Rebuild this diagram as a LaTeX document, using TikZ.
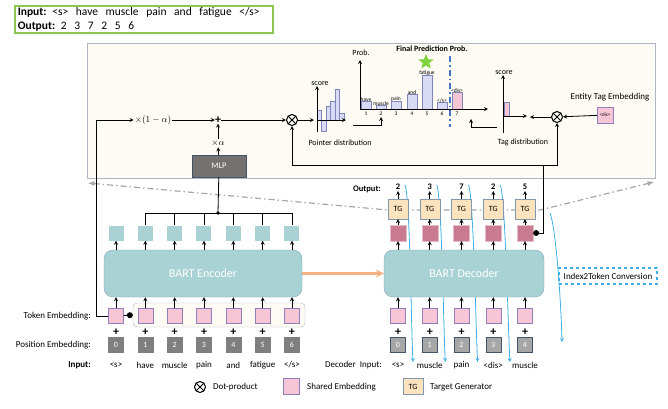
\documentclass[tikz,border=0pt]{standalone}
\usepackage{fontspec}
\setmainfont{Carlito}
\usepackage{amsmath}
\usetikzlibrary{positioning, arrows, shapes.geometric}

\definecolor{panelfill}{HTML}{FDFBF4}
\definecolor{panelline}{HTML}{AEB6C4}
\definecolor{encteal}{HTML}{A9D2D4}
\definecolor{encline}{HTML}{7FA3B8}
\definecolor{embpink}{HTML}{F6C6D6}
\definecolor{embline}{HTML}{8E80B6}
\definecolor{outpink}{HTML}{C97B91}
\definecolor{tgfill}{HTML}{FBE3BD}
\definecolor{tgline}{HTML}{8497B0}
\definecolor{posgray}{HTML}{7F7F7F}
\definecolor{dposgray}{HTML}{A6A6A6}
\definecolor{darkslate}{HTML}{44546A}
\definecolor{mlpgray}{HTML}{767171}
\definecolor{barfill}{HTML}{D9DAF5}
\definecolor{barline}{HTML}{7E85B8}
\definecolor{iogreen}{HTML}{8DC64D}
\definecolor{stargreen}{HTML}{7ED33F}
\definecolor{cutblue}{HTML}{4472C4}
\definecolor{idxblue}{HTML}{3DAEE9}
\definecolor{bridge}{HTML}{F4B183}
\definecolor{zoomgray}{HTML}{A6A6A6}

\tikzset{
    x=1pt, y=-1pt, % one unit is one pixel of the layout, y grows downwards
    >=stealth, % small pointed arrow heads
    every node/.style={inner sep=1pt, font=\fontsize{9}{10}\selectfont}, % default label text
    link/.style={line width=0.8pt}, % plain black connectors
    emb/.style={draw=embline, fill=embpink, minimum size=15pt, inner sep=0pt}, % shared embedding
    encout/.style={fill=encteal, minimum size=15pt, inner sep=0pt}, % encoder states
    decout/.style={draw=outpink!50, fill=outpink, minimum size=16pt, inner sep=0pt}, % decoder states
    tgbox/.style={draw=tgline, fill=tgfill, minimum width=20pt, minimum height=20pt, font=\fontsize{8}{9}\selectfont},
    posbox/.style={draw=posgray, fill=posgray, text=white, minimum size=15pt, inner sep=0pt, font=\fontsize{8}{9}\selectfont},
    dposbox/.style={posbox, draw=darkslate, fill=dposgray},
    bart/.style={draw=encline, fill=encteal, rounded corners=9pt, text=white, minimum height=47pt, font=\fontsize{12}{14}\selectfont},
    plussign/.style={inner sep=0pt, font=\bfseries\fontsize{12}{12}\selectfont},
    dotprod/.style={circle, draw, line width=1pt, minimum size=11pt, inner sep=0pt,
        path picture={\draw[line width=1pt] (path picture bounding box.north west) -- (path picture bounding box.south east)
        (path picture bounding box.north east) -- (path picture bounding box.south west);}},
    barbox/.style={draw=barline, fill=barfill, line width=0.5pt},
    axisline/.style={->, line width=0.8pt},
    tinylabel/.style={inner sep=0.5pt, font=\fontsize{5.5}{6}\selectfont},
    smalllabel/.style={font=\fontsize{8}{9}\selectfont},
    boldlabel/.style={font=\bfseries\fontsize{8.5}{10}\selectfont},
    idx/.style={->, idxblue, line width=0.8pt}, % index to token conversion
    zoomcut/.style={latex-latex, zoomgray, line width=1.2pt, dash pattern=on 6pt off 3pt on 1.5pt off 3pt},
}

\begin{document}
\begin{tikzpicture}
\useasboundingbox (0,0) rectangle (668,408);

% input / output example
\node[draw=iogreen, line width=1.6pt, fill=white, anchor=north west, align=left, text width=252pt,
      inner xsep=3pt, inner ysep=2pt, font=\fontsize{11.5}{13.5}\selectfont] (io) at (14,5)
      {\textbf{Input:} <s>\ \ have\ \ muscle\ \ pain\ \ and\ \ fatigue\ \ </s>\\\textbf{Output:} 2\ \ 3\ \ 7\ \ 2\ \ 5\ \ 6};

% zoomed pointer panel
\draw[zoomcut] (88,183) -- (388,210) -- (540,210) -- (654,182);
\node[draw=panelline, fill=panelfill, line width=0.8pt, anchor=north west, minimum width=568pt, minimum height=135pt] (panel) at (87,43) {};

\node (mix) at (153,120) {$\times(1-\alpha)$};
\node[plussign] (plus) at (218,120) {+};
\node (alpha) at (218,143) {$\times\alpha$};
\node[draw=darkslate, fill=mlpgray, text=white, minimum width=54pt, minimum height=22pt, font=\fontsize{8.5}{9}\selectfont] (mlp) at (219,166) {MLP};
\node[dotprod] (dot1) at (292,120) {};
\draw[link,->] (mix) -- (plus);
\draw[link,->] (plus) -- (dot1);
\draw[link,->] (mlp) -- (alpha);
\draw[link,->] (alpha) -- (plus);

% pointer distribution
\draw[link,->] (dot1) -- (314,120);
\foreach \x/\top in {317/110, 321.5/131, 326/106, 330.5/101, 335/89, 339.5/113}
    \draw[barbox] (\x,120) rectangle (\x+4.5,\top);
\draw[axisline] (317,132) -- (317,86);
\draw[axisline] (317,120) -- (346,120);
\node[smalllabel] (pscore) at (320,84) {score};
\node[smalllabel] (plbl) at (340,143) {Pointer distribution};
\coordinate (pa) at (353,125);
\coordinate (pb) at (381,117);
\draw[link,->] (pa) -| (pb);

% final prediction probability
\foreach \x/\top/\w [count=\i] in {361/101/have, 376/105/muscle, 391/101/pain, 407/94/and, 422/75/fatigue, 437/102/{</s>}} {
    \draw[barbox] (\x,109) rectangle (\x+10,\top);
    \node[tinylabel, anchor=south] (w\i) at (\x+5,\top+1) {\w};
    \node[tinylabel, anchor=north] (n\i) at (\x+5,111) {\i};
}
\draw[barbox, fill=embpink] (452,109) rectangle (462,92);
\node[tinylabel, anchor=south] (w7) at (457,93) {<dis>};
\node[tinylabel, anchor=north] (n7) at (457,111) {7};
\draw[axisline] (360,109) -- (360,60);
\draw[axisline] (360,109) -- (488,109);
\node[smalllabel] (prob) at (361,53) {Prob.};
\draw[cutblue, line width=1.4pt, dash pattern=on 6pt off 3pt on 1.5pt off 3pt] (450,56) -- (450,127);
\node[star, star points=5, star point ratio=2.3, fill=stargreen, minimum size=16pt, inner sep=0pt] (star) at (426,62) {};
\node[font=\bfseries\fontsize{8}{9}\selectfont] (final) at (432,49) {Final Prediction Prob.};

% tag distribution
\coordinate (ta) at (497,127);
\coordinate (tb) at (471,119);
\draw[link,->] (ta) -| (tb);
\draw[barbox, fill=embpink] (504,116) rectangle (509,102);
\draw[axisline] (503,133) -- (503,75);
\draw[axisline] (503,116) -- (527,116);
\node[smalllabel] (tscore) at (504,73) {score};
\node[smalllabel] (tlbl) at (523,142) {Tag distribution};
\node[dotprod] (dot2) at (557,117) {};
\node[emb, minimum size=16pt] (disbox) at (605,115) {\fontsize{5}{5}\selectfont <dis>};
\node (ent) at (610,97) {Entity Tag Embedding};
\draw[link,->] (dot2) -- (530,117);
\draw[link,->] (disbox) -- (dot2);

% index to token conversion
\foreach \i in {0,...,3} {
    \coordinate (is\i) at ({405+31.75*\i},185);
    \coordinate (ie\i) at ({413+32.3*\i},362);
    \draw[idx] (is\i) .. controls +(5,12) and +(-2,-40) .. (ie\i);
}
\coordinate (is4) at (550,213);
\coordinate (ie4) at (562,342);
\draw[idx] (is4) .. controls +(6,15) and +(-1,-40) .. (ie4);
\node[draw=idxblue, dashed, line width=1.3pt, minimum width=98pt, minimum height=16pt] (i2t) at (608,276) {Index2Token Conversion};

% encoder and decoder
\node[draw=panelline, fill=panelfill, rounded corners=4pt, minimum width=172pt, minimum height=24pt] (tokgroup) at (219,315) {};
\node[bart, minimum width=198pt] (enc) at (203,273.5) {BART Encoder};
\node[bart, minimum width=160pt] (dec) at (464,273.5) {BART Decoder};
\draw[->, bridge, line width=2.5pt] (enc) -- (dec);

\foreach \w [count=\i from 0] in {<s>, have, muscle, pain, and, fatigue, {</s>}} {
    \node[encout] (eo\i) at ({116+29.33*\i},233) {};
    \node[emb] (tok\i) at ({116+29.33*\i},316) {};
    \node[plussign] (tp\i) at ({116+29.33*\i},332) {+};
    \node[posbox] (pos\i) at ({116+29.33*\i},345) {\i};
    \node (in\i) at ({116+29.33*\i},365) {\w};
    \draw[link,->] (tok\i) -- (tok\i |- enc.south);
    \draw[link,->] (eo\i |- enc.north) -- (eo\i);
}
\coordinate (bus) at (218,213);
\draw[link] (eo1.north) |- (eo6.north |- bus) -- (eo6.north);
\foreach \i in {2,...,5}
    \draw[link] (eo\i.north) -- (eo\i.north |- bus);
\draw[link] (mlp) -- (bus);
\fill (bus) circle (1.8pt);

\foreach \w/\o [count=\i from 0] in {<s>/2, muscle/3, pain/7, {<dis>}/2, muscle/5} {
    \node[emb] (din\i) at ({398+31.75*\i},316) {};
    \node[plussign] (dp\i) at ({398+31.75*\i},332) {+};
    \node[dposbox] (dpos\i) at ({398+31.75*\i},345) {\i};
    \node (dw\i) at ({398+31.75*\i},365) {\w};
    \node[decout] (dout\i) at ({398+31.75*\i},233) {};
    \node[tgbox] (tg\i) at ({398+31.75*\i},209) {TG};
    \node[boldlabel] (num\i) at ({398+31.75*\i},187) {\o};
    \draw[link,->] (din\i) -- (din\i |- dec.south);
    \draw[link,->] (dout\i |- dec.north) -- (dout\i);
    \draw[link,->] (dout\i) -- (tg\i);
    \draw[link,->] (tg\i) -- (num\i);
}

% connectors between the two parts
\coordinate (bend) at (96,316);
\draw[link,->] (tok0) -- (bend) |- (mix);
\draw[link,-*] (tok0) -- (tokgroup.west);
\coordinate (hub) at (543,165);
\draw[link,*-] (dout4.east) -| (hub);
\draw[link,->] (hub) -| (dot1);
\draw[link,->] (hub) -| (dot2);

% row labels
\node[anchor=east] (lbtok) at (92,316) {Token Embedding:};
\node[anchor=east] (lbpos) at (92,345) {Position Embedding:};
\node[anchor=east, font=\bfseries\fontsize{9}{10}\selectfont] (lbin) at (92,365) {Input:};
\node[anchor=east, boldlabel] (lbout) at (382,189) {Output:};
\node[anchor=east] (lbdin) at (383,365) {Decoder\ \ Input:};

% legend
\node[dotprod] (lgdot) at (200,387) {};
\node[anchor=west] (lgdottxt) at (212,387) {Dot-product};
\node[emb, minimum size=16pt] (lgemb) at (291.5,386.5) {};
\node[anchor=west] (lgembtxt) at (306,387) {Shared Embedding};
\node[tgbox, minimum height=16pt] (lgtg) at (413,386.5) {TG};
\node[anchor=west] (lgtgtxt) at (429,387) {Target Generator};
\end{tikzpicture}
\end{document}
